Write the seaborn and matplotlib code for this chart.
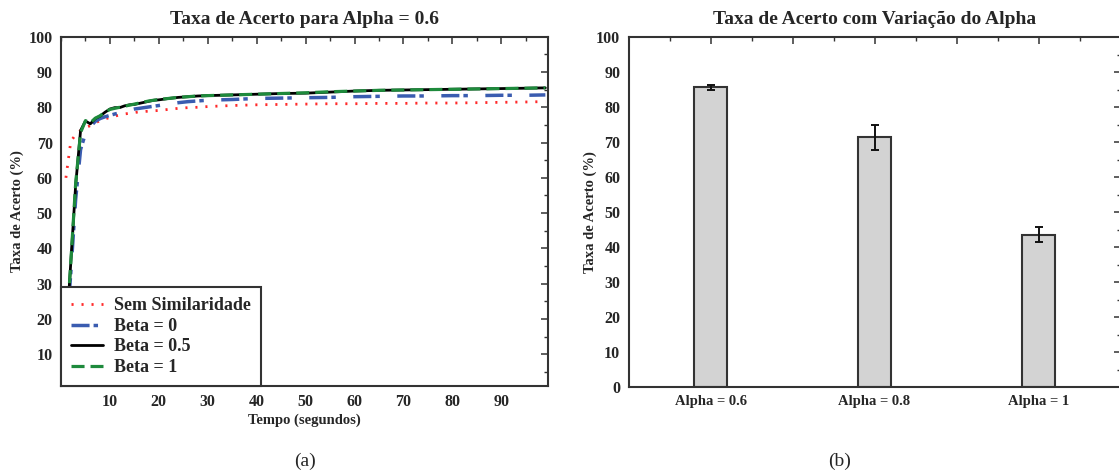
import matplotlib
matplotlib.use("Agg")
import matplotlib.pyplot as plt
import seaborn as sns
from matplotlib.ticker import MultipleLocator

# ---------------- data ----------------
tempo = [1, 2, 3, 4, 5, 6, 7, 8, 9, 10, 11, 12, 13, 14, 15, 16, 17, 18, 19, 20,
         22, 24, 26, 28, 30, 35, 40, 45, 50, 55, 60, 65, 70, 75, 80, 85, 90, 95, 99]

sem_similaridade = [60.0, 70.3, 72.3, 73.4, 74.2, 74.8, 75.6, 76.2, 76.7, 77.1,
                    77.5, 77.8, 78.1, 78.3, 78.5, 78.7, 78.8, 78.9, 79.0, 79.1,
                    79.4, 79.7, 79.9, 80.0, 80.2, 80.5, 80.7, 80.8, 80.9, 81.0,
                    81.0, 81.1, 81.1, 81.2, 81.2, 81.3, 81.4, 81.5, 81.6]

beta_0 = [14.0, 33.0, 54.0, 68.0, 72.6, 74.5, 76.0, 76.8, 77.3, 77.7,
          78.1, 78.4, 78.8, 79.2, 79.5, 79.7, 79.9, 80.1, 80.3, 80.5,
          80.9, 81.3, 81.6, 81.8, 82.0, 82.2, 82.5, 82.6, 82.7, 82.8,
          83.0, 83.1, 83.2, 83.2, 83.3, 83.3, 83.4, 83.4, 83.5]

beta_05 = [14.0, 36.0, 58.0, 73.4, 76.1, 75.3, 76.8, 77.5, 78.6, 79.5,
           79.9, 79.9, 80.4, 80.7, 80.8, 81.1, 81.4, 81.7, 82.0, 82.1,
           82.5, 82.8, 83.0, 83.2, 83.3, 83.5, 83.7, 83.9, 84.0, 84.3,
           84.6, 84.8, 84.9, 85.0, 85.1, 85.2, 85.3, 85.4, 85.5]

beta_1 = [14.0, 36.0, 58.5, 72.8, 76.2, 75.6, 76.9, 77.6, 78.6, 79.4,
          79.7, 80.0, 80.3, 80.6, 80.9, 81.2, 81.5, 81.8, 82.0, 82.2,
          82.5, 82.8, 83.0, 83.2, 83.3, 83.5, 83.7, 83.9, 84.1, 84.4,
          84.6, 84.8, 84.9, 85.0, 85.1, 85.2, 85.3, 85.4, 85.5]

series_labels = ["Sem Similaridade", "Beta = 0", "Beta = 0.5", "Beta = 1"]

alpha_labels = ["Alpha = 0.6", "Alpha = 0.8", "Alpha = 1"]
alpha_taxa = [85.6, 71.3, 43.5]
alpha_erro = [0.6, 3.65, 2.2]

x_ticks_a = [10, 20, 30, 40, 50, 60, 70, 80, 90]
y_ticks_a = [10, 20, 30, 40, 50, 60, 70, 80, 90, 100]
y_ticks_b = [0, 10, 20, 30, 40, 50, 60, 70, 80, 90, 100]

# ---------------- style ----------------
sns.set_style("white")
plt.rcParams["font.family"] = ["Liberation Serif", "DejaVu Serif"]
plt.rcParams["font.weight"] = "bold"
plt.rcParams["lines.scale_dashes"] = False

W, H = 1119, 474
fig = plt.figure(figsize=(W / 100, H / 100), dpi=100)

spine_col = "#333333"

def style_axes(ax, xsize=11.5):
    for s in ax.spines.values():
        s.set_visible(True)
        s.set_color(spine_col)
        s.set_linewidth(1.5)
    ax.tick_params(which="both", direction="in", top=True, right=True,
                   color=spine_col, labelsize=11.5, pad=6)
    ax.tick_params(axis="x", labelsize=xsize)
    ax.tick_params(which="major", length=5, width=1.1)
    ax.tick_params(which="minor", length=3, width=1.0)
    for lbl in ax.get_xticklabels() + ax.get_yticklabels():
        lbl.set_fontweight("bold")

# ---------------- (a) ----------------
ax1 = fig.add_axes([61 / W, 1 - 386 / H, (548.3 - 61) / W, (386 - 36.7) / H])

sns.lineplot(x=tempo, y=sem_similaridade, ax=ax1, color="#ff2a2a", lw=2.0,
             linestyle=(0, (1.5, 5.7)), label=series_labels[0])
sns.lineplot(x=tempo, y=beta_0, ax=ax1, color="#3a5cb0", lw=2.5,
             linestyle=(0, (13, 2.9, 3.2, 12.6)), label=series_labels[1])
sns.lineplot(x=tempo, y=beta_05, ax=ax1, color="black", lw=2.0,
             linestyle="-", label=series_labels[2])
sns.lineplot(x=tempo, y=beta_1, ax=ax1, color="#1e8a3c", lw=2.3,
             linestyle=(0, (9.4, 4.3)), label=series_labels[3])

ax1.set_xlim(0, 99.6)
ax1.set_ylim(1, 100)
ax1.set_xticks(x_ticks_a)
ax1.set_yticks(y_ticks_a)
ax1.xaxis.set_minor_locator(MultipleLocator(5))
ax1.yaxis.set_minor_locator(MultipleLocator(5))
style_axes(ax1)

ax1.set_title("Taxa de Acerto para Alpha = 0.6", fontsize=14, fontweight="bold", pad=9)
ax1.set_xlabel("Tempo (segundos)", fontsize=10.5, fontweight="bold")
ax1.set_ylabel("Taxa de Acerto (%)", fontsize=10.5, fontweight="bold")
ax1.yaxis.set_label_coords(-0.076, 0.5)
ax1.xaxis.set_label_coords(0.5, -0.078)

leg = ax1.legend(loc="lower left", bbox_to_anchor=(0, 0), borderaxespad=0,
                 frameon=True, fancybox=False, framealpha=1,
                 prop={"family": "Liberation Serif", "weight": "bold", "size": 13},
                 handlelength=1.8, handletextpad=0.6, labelspacing=0.2,
                 borderpad=0.55)
leg.get_frame().set_edgecolor(spine_col)
leg.get_frame().set_linewidth(1.5)

# ---------------- (b) ----------------
ax2 = fig.add_axes([628.6 / W, 1 - 387 / H, (1120.5 - 628.6) / W, (387 - 37) / H])

sns.barplot(x=alpha_labels, y=alpha_taxa, ax=ax2, color="#d3d3d3", saturation=1,
            edgecolor=spine_col, linewidth=1.5, width=0.2, errorbar=None)
ax2.errorbar(x=list(range(len(alpha_labels))), y=alpha_taxa, yerr=alpha_erro,
             fmt="none", ecolor="#111111", elinewidth=1.4, capsize=3.2, capthick=1.4)

ax2.set_xlim(-0.5, 2.5)
ax2.set_ylim(0, 100)
pos = [-0.5, 0, 0.5, 1, 1.5, 2, 2.5]
ax2.set_xticks(pos)
ax2.set_xticklabels(["", alpha_labels[0], "", alpha_labels[1], "", alpha_labels[2], ""])
ax2.xaxis.set_minor_locator(MultipleLocator(0.25))
ax2.set_yticks(y_ticks_b)
ax2.yaxis.set_minor_locator(MultipleLocator(5))
style_axes(ax2, xsize=10.5)

ax2.set_title("Taxa de Acerto com Variação do Alpha", fontsize=14, fontweight="bold", pad=9)
ax2.set_xlabel("")
ax2.set_ylabel("Taxa de Acerto (%)", fontsize=10.5, fontweight="bold")
ax2.yaxis.set_label_coords(-0.064, 0.5)

# captions
fig.text(305 / W, 1 - 461 / H, "(a)", ha="center", va="center", fontsize=14,
         fontweight="normal", family="Liberation Serif")
fig.text(840 / W, 1 - 461 / H, "(b)", ha="center", va="center", fontsize=14,
         fontweight="normal", family="Liberation Serif")

fig.savefig("out.png", dpi=100)
